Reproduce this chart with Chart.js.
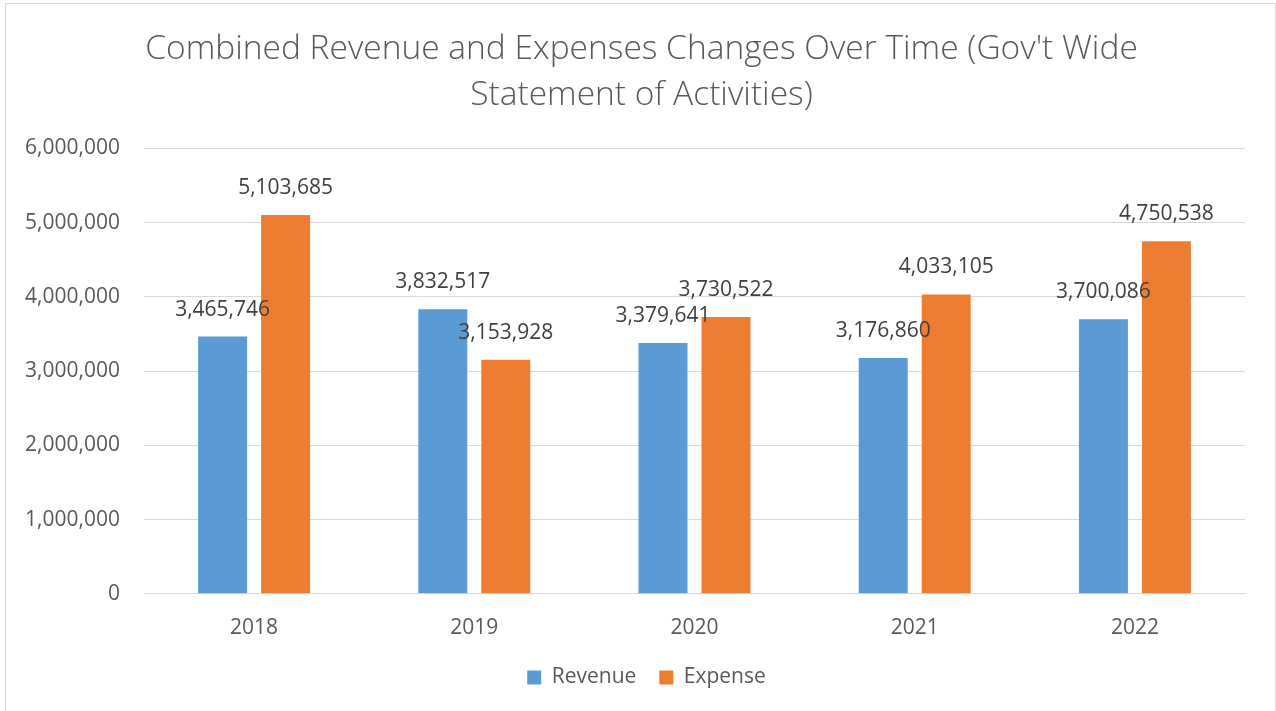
<!DOCTYPE html>
<html>
<head>
<meta charset="utf-8">
<script src="https://cdn.jsdelivr.net/npm/chart.js@4.4.1/dist/chart.umd.min.js"></script>
<style>
  html, body { margin: 0; padding: 0; background: #fff; }
  #frame { position: absolute; left: 5px; top: 3px; width: 1271px; height: 720px; border: 1px solid #d9d9d9; box-sizing: border-box; }
  #wrap { position: absolute; left: 0; top: 0; width: 1276px; height: 711px; }
</style>
</head>
<body>
<div id="frame"></div>
<div id="wrap"><canvas id="chart"></canvas></div>
<script>
const years = ['2018', '2019', '2020', '2021', '2022'];
const revenue = [3465746, 3832517, 3379641, 3176860, 3700086];
const expense = [5103685, 3153928, 3730522, 4033105, 4750538];
const yTicks = [0, 1000000, 2000000, 3000000, 4000000, 5000000, 6000000];

const TEXT = '#595959';
const LINE = '#d9d9d9';
const FONT = '"Open Sans", sans-serif';

const fmt = v => v.toLocaleString('en-US');

// Excel-style value labels above each bar
const barLabels = {
  id: 'barLabels',
  afterDatasetsDraw(chart) {
    const { ctx } = chart;
    ctx.save();
    ctx.font = '21px ' + FONT;
    ctx.fillStyle = '#404040';
    ctx.textAlign = 'center';
    ctx.textBaseline = 'middle';
    chart.data.datasets.forEach((ds, i) => {
      chart.getDatasetMeta(i).data.forEach((bar, j) => {
        ctx.fillText(fmt(ds.data[j]), bar.x, bar.y - 27);
      });
    });
    ctx.restore();
  },
};

// centre title and legend on the whole frame, not just the left part
const shiftBoxes = {
  id: 'shiftBoxes',
  afterLayout(chart) {
    chart.titleBlock.left += 19;
    chart.titleBlock.right += 19;
    chart.legend.left += 24;
    chart.legend.right += 24;
    chart.legend.top -= 11;
    chart.legend.bottom -= 11;
  },
};

new Chart(document.getElementById('chart'), {
  type: 'bar',
  data: {
    labels: years,
    datasets: [
      {
        label: 'Revenue',
        data: revenue,
        backgroundColor: '#5b9bd5',
        categoryPercentage: 0.572,
        barPercentage: 0.778,
      },
      {
        label: 'Expense',
        data: expense,
        backgroundColor: '#ed7d31',
        categoryPercentage: 0.572,
        barPercentage: 0.778,
      },
    ],
  },
  options: {
    responsive: true,
    maintainAspectRatio: false,
    animation: false,
    devicePixelRatio: 1,
    layout: {
      padding: { left: 0, right: 31, top: 0, bottom: 2 },
    },
    plugins: {
      title: {
        display: true,
        text: ["Combined Revenue and Expenses Changes Over Time (Gov't Wide", 'Statement of Activities)'],
        color: TEXT,
        font: { family: FONT, size: 33.5, weight: 300, lineHeight: 1.38 },
        padding: { top: 26, bottom: 30 },
      },
      legend: {
        position: 'bottom',
        labels: {
          color: TEXT,
          font: { family: FONT, size: 21 },
          boxWidth: 14,
          boxHeight: 14,
          padding: 23,
        },
      },
      tooltip: { enabled: false },
    },
    scales: {
      x: {
        grid: { display: false },
        border: { color: LINE, width: 1 },
        ticks: { color: TEXT, font: { family: FONT, size: 21 }, padding: 14 },
      },
      y: {
        min: 0,
        max: 6000000,
        afterFit: scale => { scale.width = 144; },
        afterBuildTicks: scale => { scale.ticks = yTicks.map(v => ({ value: v })); },
        grid: { color: LINE, drawTicks: false },
        border: { display: false },
        ticks: {
          color: TEXT,
          font: { family: FONT, size: 21 },
          padding: 24,
          callback: v => fmt(v),
        },
      },
    },
  },
  plugins: [barLabels, shiftBoxes],
});
</script>
</body>
</html>
